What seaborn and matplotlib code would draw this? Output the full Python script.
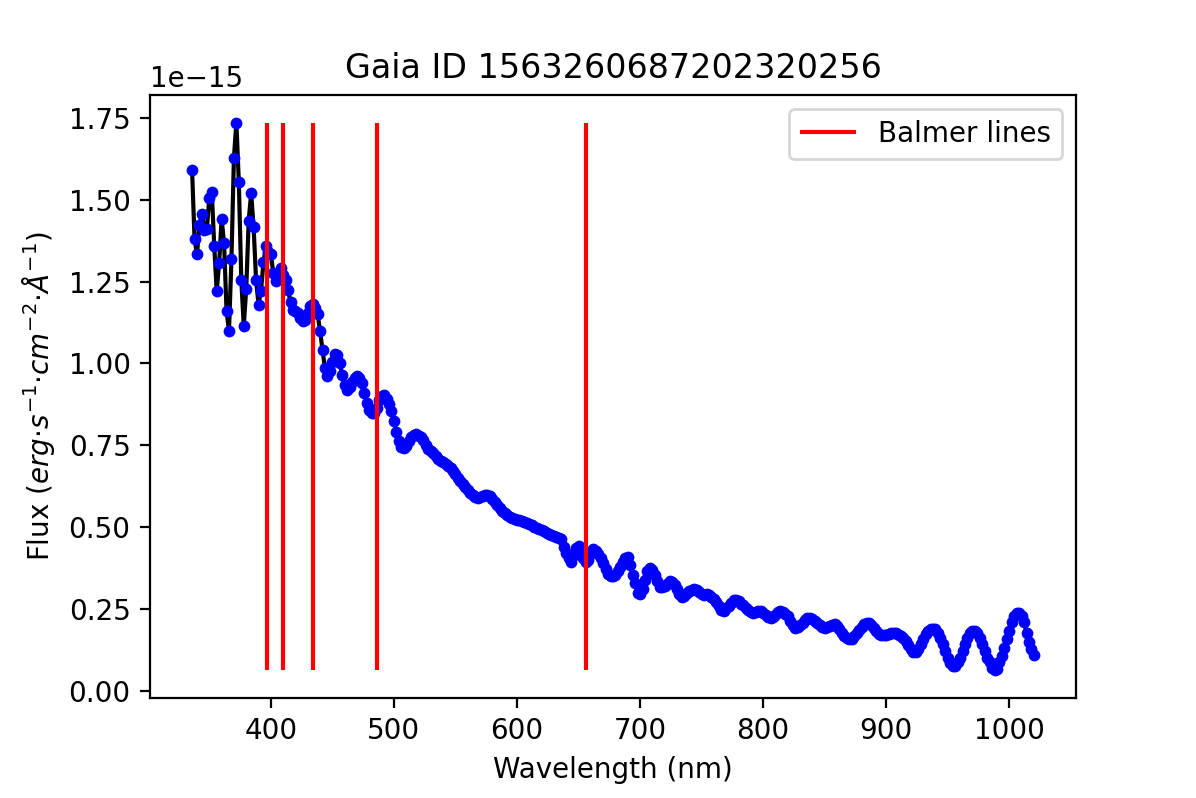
import numpy as np
import matplotlib
matplotlib.use("Agg")
import matplotlib.pyplot as plt
import seaborn as sns

# Gaia XP sampled spectrum, 336-1020 nm in 2 nm steps
wavelength = np.arange(336, 1022, 2)

# flux in units of 1e-15 erg/s/cm^2/A
flux_e15 = [
    1.592, 1.380, 1.334, 1.424, 1.456, 1.408, 1.411, 1.505, 1.525, 1.360,
    1.220, 1.307, 1.441, 1.368, 1.161, 1.100, 1.319, 1.629, 1.736, 1.553,
    1.254, 1.114, 1.228, 1.436, 1.520, 1.417, 1.254, 1.180, 1.222, 1.309,
    1.358, 1.342, 1.335, 1.276, 1.251, 1.261, 1.293, 1.271, 1.256, 1.225,
    1.187, 1.164, 1.159, 1.154, 1.139, 1.129, 1.134, 1.154, 1.175, 1.182,
    1.170, 1.150, 1.100, 1.040, 0.985, 0.962, 0.978, 1.005, 1.028, 1.025,
    1.000, 0.965, 0.935, 0.918, 0.928, 0.945, 0.957, 0.961, 0.955, 0.940,
    0.910, 0.878, 0.858, 0.848, 0.850, 0.865, 0.888, 0.900, 0.905, 0.892,
    0.875, 0.855, 0.825, 0.790, 0.763, 0.745, 0.741, 0.748, 0.762, 0.775,
    0.783, 0.784, 0.780, 0.775, 0.766, 0.752, 0.740, 0.733, 0.726, 0.716,
    0.708, 0.703, 0.698, 0.692, 0.686, 0.680, 0.671, 0.661, 0.651, 0.642,
    0.633, 0.624, 0.615, 0.606, 0.598, 0.593, 0.590, 0.591, 0.595, 0.599,
    0.599, 0.594, 0.587, 0.578, 0.568, 0.559, 0.551, 0.543, 0.536, 0.531,
    0.527, 0.525, 0.523, 0.521, 0.518, 0.516, 0.513, 0.510, 0.506, 0.502,
    0.498, 0.494, 0.490, 0.487, 0.483, 0.480, 0.477, 0.474, 0.471, 0.468,
    0.464, 0.440, 0.420, 0.405, 0.395, 0.415, 0.435, 0.442, 0.428, 0.405,
    0.393, 0.400, 0.420, 0.432, 0.428, 0.418, 0.405, 0.390, 0.372, 0.357,
    0.350, 0.350, 0.355, 0.365, 0.380, 0.395, 0.405, 0.410, 0.385, 0.355,
    0.330, 0.300, 0.295, 0.310, 0.340, 0.365, 0.375, 0.370, 0.355, 0.335,
    0.318, 0.316, 0.320, 0.328, 0.335, 0.333, 0.322, 0.310, 0.295, 0.286,
    0.290, 0.300, 0.306, 0.309, 0.310, 0.309, 0.303, 0.297, 0.294, 0.295,
    0.294, 0.288, 0.280, 0.272, 0.258, 0.247, 0.245, 0.252, 0.260, 0.270,
    0.278, 0.279, 0.274, 0.266, 0.262, 0.252, 0.246, 0.241, 0.239, 0.241,
    0.244, 0.243, 0.238, 0.231, 0.225, 0.223, 0.226, 0.233, 0.240, 0.244,
    0.242, 0.236, 0.228, 0.215, 0.200, 0.193, 0.195, 0.201, 0.208, 0.216,
    0.222, 0.223, 0.219, 0.213, 0.208, 0.202, 0.196, 0.193, 0.194, 0.198,
    0.202, 0.203, 0.198, 0.188, 0.178, 0.168, 0.161, 0.158, 0.160, 0.168,
    0.178, 0.186, 0.196, 0.205, 0.208, 0.206, 0.200, 0.192, 0.182, 0.175,
    0.172, 0.171, 0.172, 0.174, 0.176, 0.178, 0.177, 0.172, 0.168, 0.162,
    0.152, 0.139, 0.127, 0.120, 0.119, 0.127, 0.142, 0.158, 0.173, 0.183,
    0.190, 0.190, 0.188, 0.178, 0.163, 0.142, 0.122, 0.102, 0.085, 0.076,
    0.076, 0.087, 0.102, 0.122, 0.142, 0.163, 0.178, 0.183, 0.183, 0.178,
    0.163, 0.142, 0.122, 0.102, 0.087, 0.071, 0.063, 0.068, 0.087, 0.107,
    0.132, 0.158, 0.183, 0.209, 0.229, 0.239, 0.239, 0.229, 0.209, 0.178,
    0.148, 0.127, 0.109,
]
flux = np.array(flux_e15) * 1e-15

# Balmer series wavelengths (nm): H-epsilon .. H-alpha
balmer = [397.0, 410.2, 434.0, 486.1, 656.3]

source_id = "1563260687202320256"

fig = plt.figure(figsize=(5.98, 3.99), dpi=200)
ax = fig.add_subplot(111)
fig.subplots_adjust(left=0.1254, right=0.8997, top=0.8808, bottom=0.1257)

sns.lineplot(x=wavelength, y=flux, color='black', linewidth=1.5, ax=ax)
sns.scatterplot(x=wavelength, y=flux, color='blue', s=18, linewidth=0, ax=ax, zorder=3)
ax.vlines(balmer, flux.min(), flux.max(), colors='red', label='Balmer lines', zorder=4)

ax.set_title(f"Gaia ID {source_id}")
ax.set_xlabel("Wavelength (nm)")
ax.set_ylabel(r"Flux ($erg{\cdot}s^{-1}{\cdot}cm^{-2}{\cdot}\AA^{-1}$)")
ax.legend(loc='upper right')

fig.savefig("out.png", dpi=200)
